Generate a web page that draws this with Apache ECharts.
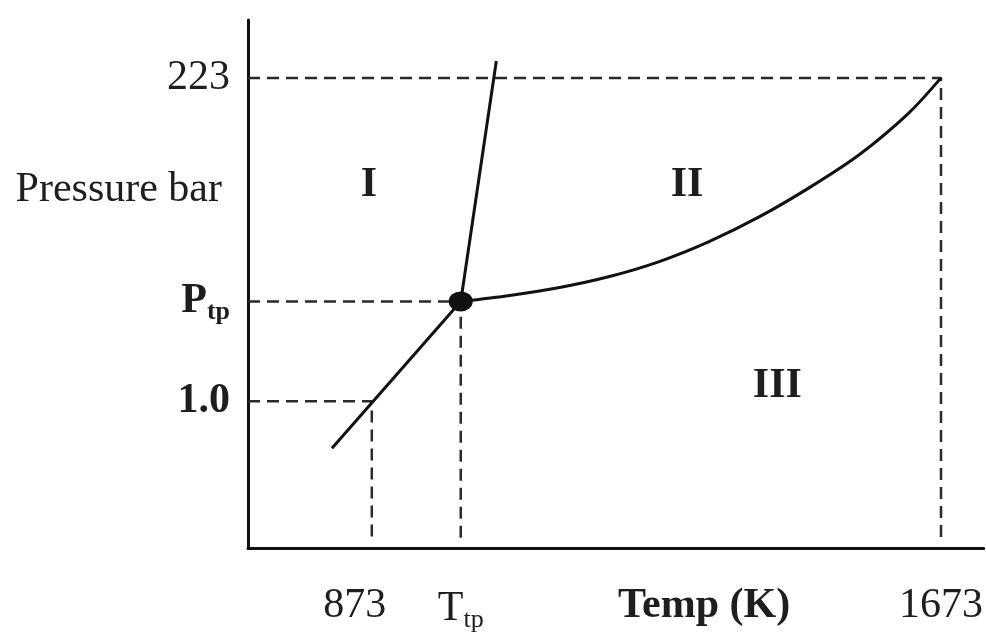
<!DOCTYPE html>
<html><head><meta charset="utf-8">
<script src="https://cdn.jsdelivr.net/npm/echarts@6/dist/echarts.min.js"></script>
<style>html,body{margin:0;padding:0;background:#fff}#c{width:986px;height:633px}</style>
</head><body><div id="c"></div>
<script>
// Axis extents (Temperature in K, linear; Pressure in bar, log — schematic)
const xMin = 699, xMax = 1733;
const yMin = 0.086, yMax = 587;

// Phase boundary curves
const sublimationT = [817, 998];
const sublimationP = [0.456, 5.31];
const meltingT = [998, 1048];
const meltingP = [5.31, 296];
const vaporT = [998, 1067, 1137, 1207, 1277, 1347, 1418, 1488, 1558, 1628, 1673];
const vaporP = [5.31, 5.87, 6.70, 8.05, 10.34, 14.44, 21.9, 35.6, 61.7, 124.4, 223];

// Triple point
const tripleT = 998, tripleP = 5.31;

// Dashed guide lines (to reference points)
const guideT = [873, 998, 1673];
const guideP = [1.0, 5.31, 223];
const guideBottomP = 0.097;

// Tick labels
const xTickValues = [873, 998, 1340, 1673];
const xTickLabels = ['{l|873}', '{t|T}{s|tp}', '{b|Temp (K)}', '1673'];
const yTickValues = [223, 34, 5.31, 1.0];
const yTickLabels = ['223', '{pb|Pressure bar}', '{bp|P}{bs|tp}', '{b1|1.0}'];

// Region labels
const regionNames = ['I', 'II', 'III'];
const regionT = [869, 1316, 1443];
const regionP = [36.8, 36.8, 1.284];

const FONT = 'Liberation Serif';
const FS = 42;
const TXT = '#1e1e1e';

function zip(a, b) { return a.map((v, i) => [v, b[i]]); }
function lookup(vals, labels, v) {
  for (let i = 0; i < vals.length; i++) {
    if (Math.abs(vals[i] - v) <= Math.abs(vals[i]) * 1e-6 + 1e-9) return labels[i];
  }
  return '';
}

const rich = {
  l: { fontFamily: FONT, fontSize: FS, color: TXT, padding: [0, 34, 0, 0] },
  t: { fontFamily: FONT, fontSize: FS, color: TXT },
  s: { fontFamily: FONT, fontSize: 26, color: TXT, padding: [22, 0, 0, 0] },
  b: { fontFamily: FONT, fontSize: FS, fontWeight: 'bold', color: TXT },
  b1: { fontFamily: FONT, fontSize: FS, fontWeight: 'bold', color: TXT },
  pb: { fontFamily: FONT, fontSize: FS, color: TXT, padding: [0, 8, 0, 0] },
  bp: { fontFamily: FONT, fontSize: FS, fontWeight: 'bold', color: TXT },
  bs: { fontFamily: FONT, fontSize: 26, fontWeight: 'bold', color: TXT, padding: [22, 0, 0, 0] }
};

const solid = { color: '#111', width: 3 };
const dashed = { color: '#2a2a2a', width: 2.5, type: [12, 7] };

const series = [];
guideT.forEach((t, i) => {
  series.push({
    type: 'line', silent: true, symbol: 'none', z: 1,
    lineStyle: dashed,
    data: [[xMin, guideP[i]], [t, guideP[i]], [t, guideBottomP]]
  });
});
series.push({ type: 'line', symbol: 'none', z: 3, lineStyle: solid, data: zip(sublimationT, sublimationP) });
series.push({ type: 'line', symbol: 'none', z: 3, lineStyle: solid, data: zip(meltingT, meltingP) });
series.push({ type: 'line', symbol: 'none', z: 3, smooth: 0.3, lineStyle: solid, data: zip(vaporT, vaporP) });
series.push({
  type: 'scatter', z: 4, symbol: 'circle', symbolSize: [24, 20],
  itemStyle: { color: '#111', opacity: 1 }, data: [[tripleT, tripleP]]
});
series.push({
  type: 'scatter', z: 5, symbolSize: 0,
  itemStyle: { opacity: 1 },
  label: {
    show: true, position: 'inside', fontFamily: FONT, fontSize: FS, fontWeight: 'bold', color: '#1e1e1e',
    formatter: p => regionNames[p.dataIndex]
  },
  data: zip(regionT, regionP)
});

const chart = echarts.init(document.getElementById('c'), null, { renderer: 'canvas' });
chart.setOption({
  animation: false,
  backgroundColor: '#fff',
  grid: { left: 248, right: 1, top: 20, bottom: 84, containLabel: false },
  xAxis: {
    type: 'value', min: xMin, max: xMax,
    axisLine: { show: true, onZero: false, lineStyle: { color: '#111', width: 3 } },
    axisTick: { show: false },
    splitLine: { show: false },
    axisLabel: {
      show: true, customValues: xTickValues, margin: 37, color: TXT,
      fontFamily: FONT, fontSize: FS, rich: rich,
      formatter: v => lookup(xTickValues, xTickLabels, v)
    }
  },
  yAxis: {
    type: 'log', min: yMin, max: yMax, logBase: 10,
    axisLine: { show: true, onZero: false, lineStyle: { color: '#111', width: 3 } },
    axisTick: { show: false },
    splitLine: { show: false },
    axisLabel: {
      show: true, customValues: yTickValues, margin: 18, color: TXT,
      fontFamily: FONT, fontSize: FS, rich: rich,
      formatter: v => lookup(yTickValues, yTickLabels, v)
    }
  },
  series: series
});
</script></body></html>
